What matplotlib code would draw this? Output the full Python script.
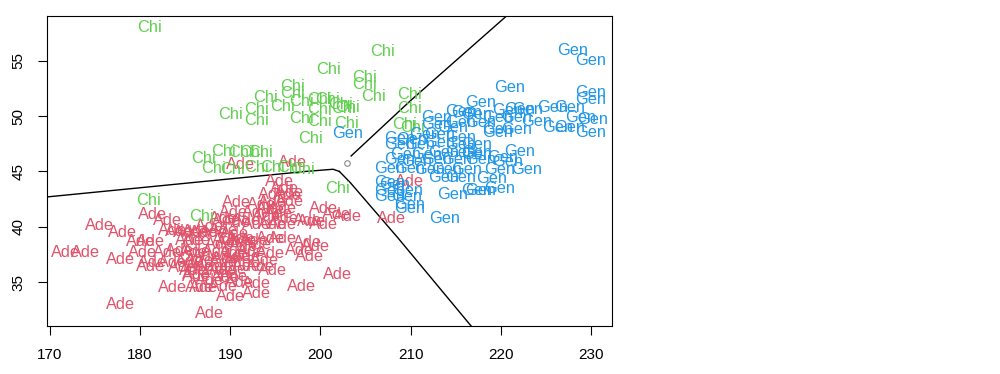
import matplotlib
matplotlib.use("Agg")
import matplotlib.pyplot as plt

plt.rcParams['font.family'] = ['Liberation Sans', 'DejaVu Sans']

# flipper length (x) vs bill length (y)
ade_x = [171.7, 173.9, 175.5, 178.0, 177.8, 177.8, 181.4, 183.0, 180.0, 181.1, 180.3, 181.1,
         183.6, 185.2, 185.5, 185.9, 183.6, 186.6, 183.0, 183.6, 181.4, 184.4, 186.3, 184.4,
         186.3, 188.5, 187.0, 189.2, 190.0, 190.7, 189.6, 190.7, 189.6, 191.4, 190.7, 185.5,
         187.7, 189.2, 186.3, 187.7, 195.5, 194.7, 196.6, 196.6, 200.3, 201.8, 203.0, 198.6,
         200.3, 194.7, 195.8, 192.9, 194.0, 195.8, 194.7, 190.3, 191.8, 192.9, 189.2, 194.4,
         198.6, 197.7, 198.8, 194.4, 192.7, 191.1, 190.0, 190.3, 191.8, 193.3, 194.7, 191.8,
         189.2, 187.4, 186.6, 188.8, 190.3, 192.9, 192.9, 197.9, 201.9, 186.3, 187.0, 186.3,
         188.1, 187.7, 199.4, 199.0, 195.8, 191.1, 196.9, 209.9, 207.9, 196.0, 196.3, 195.3,
         196.0, 194.5, 193.5, 190.5, 191.5, 192.3, 190.8, 189.5, 190.2, 191.0, 189.5, 193.0,
         193.8, 187.7, 189.2, 188.8, 185.9, 184.7, 186.6]
ade_y = [37.7, 37.7, 40.1, 39.5, 37.1, 33.0, 41.1, 40.6, 38.7, 38.7, 37.7, 36.4,
         39.7, 39.5, 38.8, 37.7, 34.5, 34.5, 37.7, 36.8, 36.8, 39.6, 39.6, 37.9,
         37.8, 37.8, 34.5, 34.6, 33.7, 42.2, 40.6, 40.4, 38.8, 38.8, 37.3, 36.9,
         36.4, 36.1, 35.5, 35.2, 44.1, 42.9, 43.1, 42.3, 41.7, 41.1, 40.9, 40.6,
         40.2, 42.2, 41.7, 41.3, 40.9, 40.2, 40.2, 41.3, 40.6, 40.2, 40.8, 39.0,
         38.6, 37.9, 37.3, 37.6, 38.8, 39.0, 38.6, 37.6, 37.3, 36.4, 36.1, 36.4,
         36.8, 37.3, 36.4, 36.1, 35.5, 34.9, 34.0, 34.6, 35.7, 35.7, 39.5, 38.8,
         39.5, 32.2, 38.2, 40.5, 39.0, 45.6, 45.8, 44.1, 40.8, 43.5, 42.8, 41.2,
         40.8, 41.6, 42.0, 39.4, 38.2, 37.8, 36.8, 37.2, 36.2, 35.0, 35.4, 38.4,
         37.0, 40.0, 39.7, 38.4, 36.1, 36.3, 37.0]

chi_x = [181.0, 206.9, 200.9, 204.9, 204.9, 205.9, 209.9, 209.9, 196.9, 196.9, 193.9, 195.8,
         197.9, 200.8, 203.0, 202.2, 199.9, 192.9, 190.0, 192.9, 197.9, 199.9, 202.9, 198.9,
         210.2, 187.0, 189.2, 191.1, 192.4, 193.3, 188.1, 190.3, 192.9, 194.7, 196.6, 198.0,
         201.9, 180.9, 186.8, 202.5, 199.9, 209.3]
chi_y = [58.0, 55.8, 54.2, 53.5, 52.8, 51.8, 51.9, 50.7, 52.7, 52.0, 51.7, 50.9,
         51.3, 51.5, 50.8, 51.0, 50.6, 50.6, 50.1, 49.6, 49.8, 49.5, 49.3, 48.0,
         49.0, 46.2, 46.8, 46.7, 46.7, 46.7, 45.3, 45.2, 45.4, 45.4, 45.4, 45.2,
         43.5, 42.4, 40.9, 50.7, 51.5, 49.2]

gen_x = [228.0, 230.0, 221.0, 229.9, 229.9, 217.7, 222.1, 220.8, 223.0, 225.7, 227.6, 217.3,
         219.6, 221.8, 224.0, 228.8, 230.2, 227.6, 229.9, 219.6, 221.8, 219.6, 217.3, 222.1,
         217.3, 220.2, 217.7, 220.7, 222.9, 219.9, 219.0, 217.3, 219.9, 215.5, 212.9, 215.5,
         217.7, 212.9, 208.8, 211.6, 213.2, 215.5, 208.8, 211.0, 213.2, 215.5, 209.4, 211.8,
         213.6, 215.5, 217.3, 208.8, 210.7, 212.9, 215.1, 207.7, 209.9, 212.1, 214.0, 216.2,
         213.6, 215.5, 207.7, 207.7, 209.7, 207.7, 209.6, 209.9, 209.9, 214.7, 217.7, 213.8,
         208.2, 216.2, 214.7, 210.1, 203.0, 226.3]
gen_y = [55.9, 55.0, 52.6, 52.1, 51.5, 51.2, 50.6, 50.5, 50.6, 50.8, 50.8, 50.1,
         49.9, 49.9, 49.5, 49.9, 49.7, 49.0, 48.5, 48.8, 48.8, 48.5, 47.4, 46.8,
         46.7, 46.3, 46.1, 45.9, 45.2, 45.2, 44.4, 43.3, 43.5, 50.4, 49.9, 49.4,
         49.4, 49.2, 48.0, 48.3, 48.3, 48.1, 47.4, 47.4, 47.6, 47.4, 46.5, 46.5,
         46.7, 46.7, 46.5, 46.1, 45.9, 46.1, 46.1, 45.3, 45.3, 45.2, 45.2, 45.2,
         44.5, 44.5, 44.0, 43.3, 43.3, 42.7, 42.7, 42.0, 41.7, 42.9, 43.3, 40.8,
         43.8, 50.3, 49.0, 47.9, 48.4, 49.0]

# decision boundaries
left_bx = [169.0, 198.3, 201.4, 202.1]
left_by = [42.65, 45.0, 45.2, 45.0]
low_bx = [202.1, 203.3, 208.6, 218.0]
low_by = [45.0, 44.0, 39.0, 29.8]
up_bx = [203.4, 210.0, 222.0]
up_by = [46.4, 51.4, 60.0]

species = [("Ade", ade_x, ade_y, "#DF536B"),
           ("Chi", chi_x, chi_y, "#61D04F"),
           ("Gen", gen_x, gen_y, "#2297E6")]

fig = plt.figure(figsize=(10, 3.74), dpi=100)
ax = fig.add_axes([0.047, 0.128, 0.565, 0.83])

for name, xs, ys, col in species:
    for x, y in zip(xs, ys):
        ax.text(x, y, name, color=col, fontsize=11.8, ha="center", va="center")

ax.plot(left_bx, left_by, color="black", lw=1)
ax.plot(low_bx, low_by, color="black", lw=1)
ax.plot(up_bx, up_by, color="black", lw=1)
ax.plot([202.9], [45.8], marker="o", ms=4, mfc="none", mec="#888888", mew=0.8)

ax.set_xlim(169.68, 232.32)
ax.set_ylim(31.06, 59.04)
ax.set_xticks([170, 180, 190, 200, 210, 220, 230])
ax.set_yticks([35, 40, 45, 50, 55])
ax.tick_params(direction="out", length=6.5, width=0.8, labelsize=11, pad=9)
for lab in ax.get_yticklabels():
    lab.set_rotation(90)
    lab.set_va("center")
for sp in ax.spines.values():
    sp.set_linewidth(0.8)

fig.savefig("out.png", dpi=100)
